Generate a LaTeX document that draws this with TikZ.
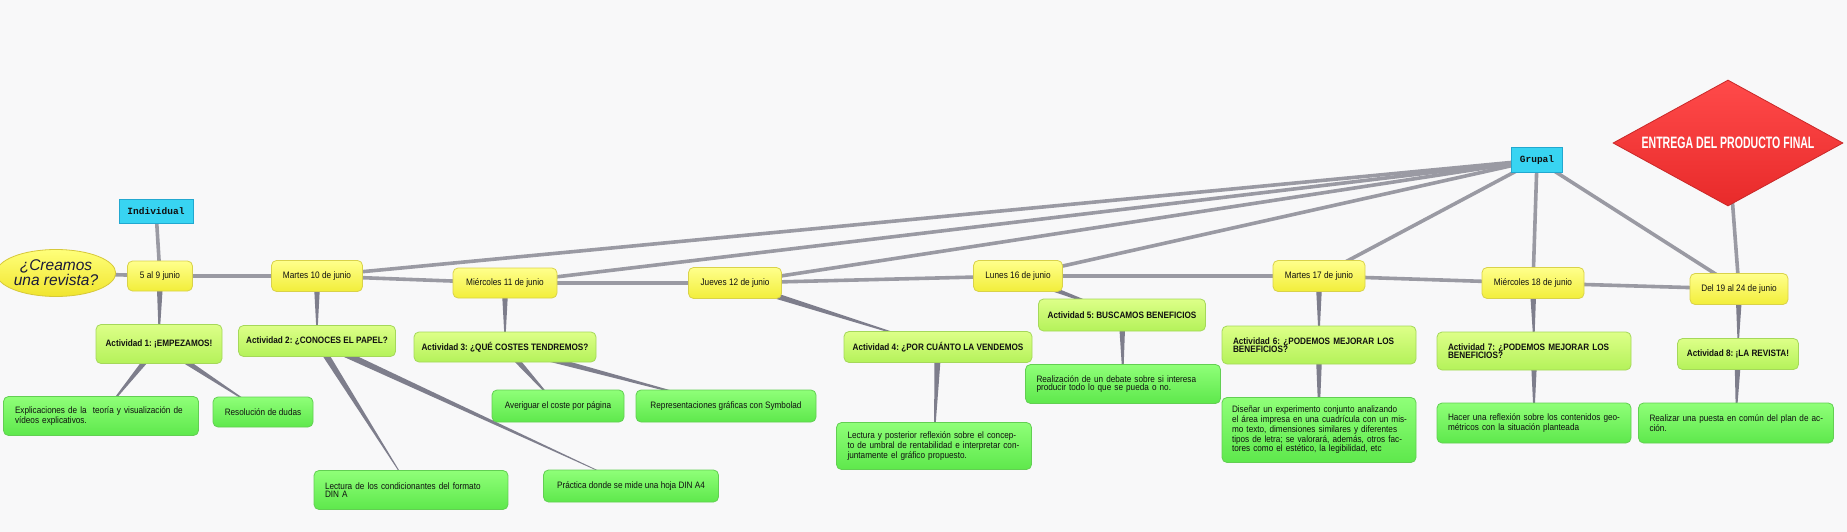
\documentclass[tikz,border=0pt]{standalone}
\usepackage{fontspec}
\usetikzlibrary{shapes.geometric,calc}
\newfontfamily\boxfont[FakeStretch=0.88]{Liberation Sans}
\newfontfamily\ellfont{Liberation Sans}
\newfontfamily\mfont{Liberation Mono}
\newfontfamily\impfont[FakeStretch=0.64]{Liberation Sans}
\newcommand\LL[1]{\mbox{#1}}
\frenchspacing
\definecolor{bgc}{HTML}{F8F8F9}
\definecolor{dateT}{HTML}{FFFF8C}
\definecolor{dateD}{HTML}{F2EE3A}
\definecolor{dateB}{HTML}{D9D24A}
\definecolor{actT}{HTML}{DDFF88}
\definecolor{actD}{HTML}{B4F25A}
\definecolor{actB}{HTML}{A5D85A}
\definecolor{leafT}{HTML}{8FFF78}
\definecolor{leafD}{HTML}{5EE84C}
\definecolor{leafB}{HTML}{62CF52}
\definecolor{tagF}{HTML}{38D4F2}
\definecolor{tagB}{HTML}{22A8D0}
\definecolor{ellT}{HTML}{FFFF7A}
\definecolor{ellD}{HTML}{F0E52E}
\definecolor{ellB}{HTML}{D6C83A}
\definecolor{finT}{HTML}{FF4A4A}
\definecolor{finD}{HTML}{E82A2A}
\definecolor{finB}{HTML}{C92828}
\definecolor{lnkc}{HTML}{9A9AA3}
\definecolor{wedc}{HTML}{7E7E8C}
\definecolor{txtc}{HTML}{101010}
\definecolor{elltxt}{HTML}{1A1A3A}
\pgfdeclarelayer{back}
\pgfdeclarelayer{links}
\pgfsetlayers{back,links,main}
\tikzset{
  base/.style={draw, line width=0.8pt, rounded corners=5pt, inner sep=0pt, text=txtc},
  datebox/.style={base, draw=dateB, top color=dateT, bottom color=dateD,
    font=\boxfont\frenchspacing\fontsize{9.4pt}{8.4pt}\selectfont, align=center},
  actbox/.style={base, draw=actB, top color=actT, bottom color=actD,
    font=\boxfont\frenchspacing\bfseries\fontsize{9.3pt}{8.4pt}\selectfont, align=center},
  leafbox/.style={base, draw=leafB, top color=leafT, bottom color=leafD,
    font=\boxfont\frenchspacing\fontsize{9.3pt}{8.4pt}\selectfont, align=center},
  tagbox/.style={draw=tagB, fill=tagF, line width=0.8pt, inner sep=0pt, text=txtc,
    font=\mfont\bfseries\fontsize{9.5pt}{10pt}\selectfont},
  sz/.style 2 args={minimum width=#1pt, minimum height=#2pt},
  lefttext/.style={align=left, text width=#1pt},
  lnk/.style={draw=lnkc, line width=3.6pt},
  wedge/.style={fill=wedc}
}
\newcommand\wedgelink[2]{\fill[wedge] ($(#1.center)!3.5pt!90:(#2.center)$) -- ($(#1.center)!3.5pt!-90:(#2.center)$) -- (#2.center) -- cycle;}
\begin{document}
\begin{tikzpicture}[x=1pt,y=-1pt]
\useasboundingbox (0,0) rectangle (1847,532);
\begin{pgfonlayer}{back}
\fill[bgc] (0,0) rectangle (1847,532);
\end{pgfonlayer}

% root and tags
\node[ellipse, draw=ellB, line width=0.8pt, top color=ellT, bottom color=ellD, inner sep=0pt,
  minimum width=113pt, minimum height=47pt, align=center, text=elltxt,
  font=\ellfont\itshape\fontsize{15.5pt}{14.7pt}\selectfont] (e) at (56,273) {¿Creamos\\una revista?};
\node[tagbox, sz={74}{24}] (ind) at (156,211) {Individual};
\node[tagbox, sz={51}{25}] (grp) at (1537,160) {Grupal};
\node[diamond, shape aspect=1.83, draw=finB, line width=0.8pt, top color=finT, bottom color=finD, inner sep=0pt,
  minimum width=230pt, minimum height=126pt, text=white,
  font=\impfont\bfseries\fontsize{16.5pt}{16pt}\selectfont] (fin) at (1728,143) {ENTREGA DEL PRODUCTO FINAL};

% dates
\node[datebox, sz={65}{30}] (d1) at (160,276) {5 al 9 junio};
\node[datebox, sz={91}{31}] (d2) at (317,276) {Martes 10 de junio};
\node[datebox, sz={104}{30}] (d3) at (505,283) {Miércoles 11 de junio};
\node[datebox, sz={93}{31}] (d4) at (735,283) {Jueves 12 de junio};
\node[datebox, sz={89}{31}] (d5) at (1018,276) {Lunes 16 de junio};
\node[datebox, sz={92}{31}] (d6) at (1319,276) {Martes 17 de junio};
\node[datebox, sz={102}{31}] (d7) at (1533,283) {Miércoles 18 de junio};
\node[datebox, sz={98}{31}] (d8) at (1739,289) {Del 19 al 24 de junio};

% activities
\node[actbox, sz={126}{39}] (a1) at (159,344) {Actividad 1: ¡EMPEZAMOS!};
\node[actbox, sz={157}{31}] (a2) at (317,341) {Actividad 2: ¿CONOCES EL PAPEL?};
\node[actbox, sz={182}{30}] (a3) at (505,347) {Actividad 3: ¿QUÉ COSTES TENDREMOS?};
\node[actbox, sz={188}{31}] (a4) at (938,347) {Actividad 4: ¿POR CUÁNTO LA VENDEMOS};
\node[actbox, sz={167}{32}] (a5) at (1122,315) {Actividad 5: BUSCAMOS BENEFICIOS};
\node[actbox, sz={194}{38}, lefttext=172] (a6) at (1319,345) {\LL{Actividad 6: ¿PODEMOS MEJORAR LOS}\\\LL{BENEFICIOS?}};
\node[actbox, sz={194}{38}, lefttext=172] (a7) at (1534,351) {\LL{Actividad 7: ¿PODEMOS MEJORAR LOS}\\\LL{BENEFICIOS?}};
\node[actbox, sz={121}{31}] (a8) at (1738,354) {Actividad 8: ¡LA REVISTA!};

% leaves
\node[leafbox, sz={195}{39}, lefttext=172] (l1) at (101,416) {\LL{Explicaciones de la~ teoría y visualización de}\\\LL{vídeos explicativos.}};
\node[leafbox, sz={100}{30}] (l2) at (263,412) {Resolución de dudas};
\node[leafbox, sz={194}{39}, lefttext=172] (l3) at (411,490) {\LL{Lectura de los condicionantes del formato}\\\LL{DIN A}};
\node[leafbox, sz={175}{32}] (l4) at (631,486) {Práctica donde se mide una hoja DIN A4};
\node[leafbox, sz={132}{32}] (l5) at (558,406) {Averiguar el coste por página};
\node[leafbox, sz={180}{32}] (l6) at (726,406) {Representaciones gráficas con Symbolad};
\node[leafbox, sz={195}{47}, lefttext=173] (l7) at (934,446) {\LL{Lectura y posterior reflexión sobre el concep-}\\\LL{to de umbral de rentabilidad e interpretar con-}\\\LL{juntamente el gráfico propuesto.}};
\node[leafbox, sz={195}{39}, lefttext=173] (l8) at (1123,384) {\LL{Realización de un debate sobre si interesa}\\\LL{producir todo lo que se pueda o no.}};
\node[leafbox, sz={194}{65}, lefttext=174] (l9) at (1319,430) {\LL{Diseñar un experimento conjunto analizando}\\\LL{el área impresa en una cuadrícula con un mis-}\\\LL{mo texto, dimensiones similares y diferentes}\\\LL{tipos de letra; se valorará, además, otros fac-}\\\LL{tores como el estético, la legibilidad, etc}};
\node[leafbox, sz={194}{40}, lefttext=172] (l10) at (1534,423) {\LL{Hacer una reflexión sobre los contenidos geo-}\\\LL{métricos con la situación planteada}};
\node[leafbox, sz={195}{40}, lefttext=173] (l11) at (1736,423) {\LL{Realizar una puesta en común del plan de ac-}\\\LL{ción.}};

\begin{pgfonlayer}{links}
% backbone
\draw[lnk] (e.center) -- (d1.center);
\draw[lnk] (d1.center) -- (d2.center);
\draw[lnk] (d2.center) -- (d3.center);
\draw[lnk] (d3.center) -- (d4.center);
\draw[lnk] (d4.center) -- (d5.center);
\draw[lnk] (d5.center) -- (d6.center);
\draw[lnk] (d6.center) -- (d7.center);
\draw[lnk] (d7.center) -- (d8.center);
\draw[lnk] (ind.center) -- (d1.center);
\draw[lnk] (fin.center) -- (d8.center);
\foreach \t in {d2,d3,d4,d5,d6,d7,d8} {\draw[lnk] (grp.center) -- (\t.center);}
% tapered links
\wedgelink{d1}{a1}
\wedgelink{a1}{l1}
\wedgelink{a1}{l2}
\wedgelink{d2}{a2}
\wedgelink{a2}{l3}
\wedgelink{a2}{l4}
\wedgelink{d3}{a3}
\wedgelink{a3}{l5}
\wedgelink{a3}{l6}
\wedgelink{d4}{a4}
\wedgelink{a4}{l7}
\wedgelink{d5}{a5}
\wedgelink{a5}{l8}
\wedgelink{d6}{a6}
\wedgelink{a6}{l9}
\wedgelink{d7}{a7}
\wedgelink{a7}{l10}
\wedgelink{d8}{a8}
\wedgelink{a8}{l11}
\end{pgfonlayer}
\end{tikzpicture}
\end{document}
